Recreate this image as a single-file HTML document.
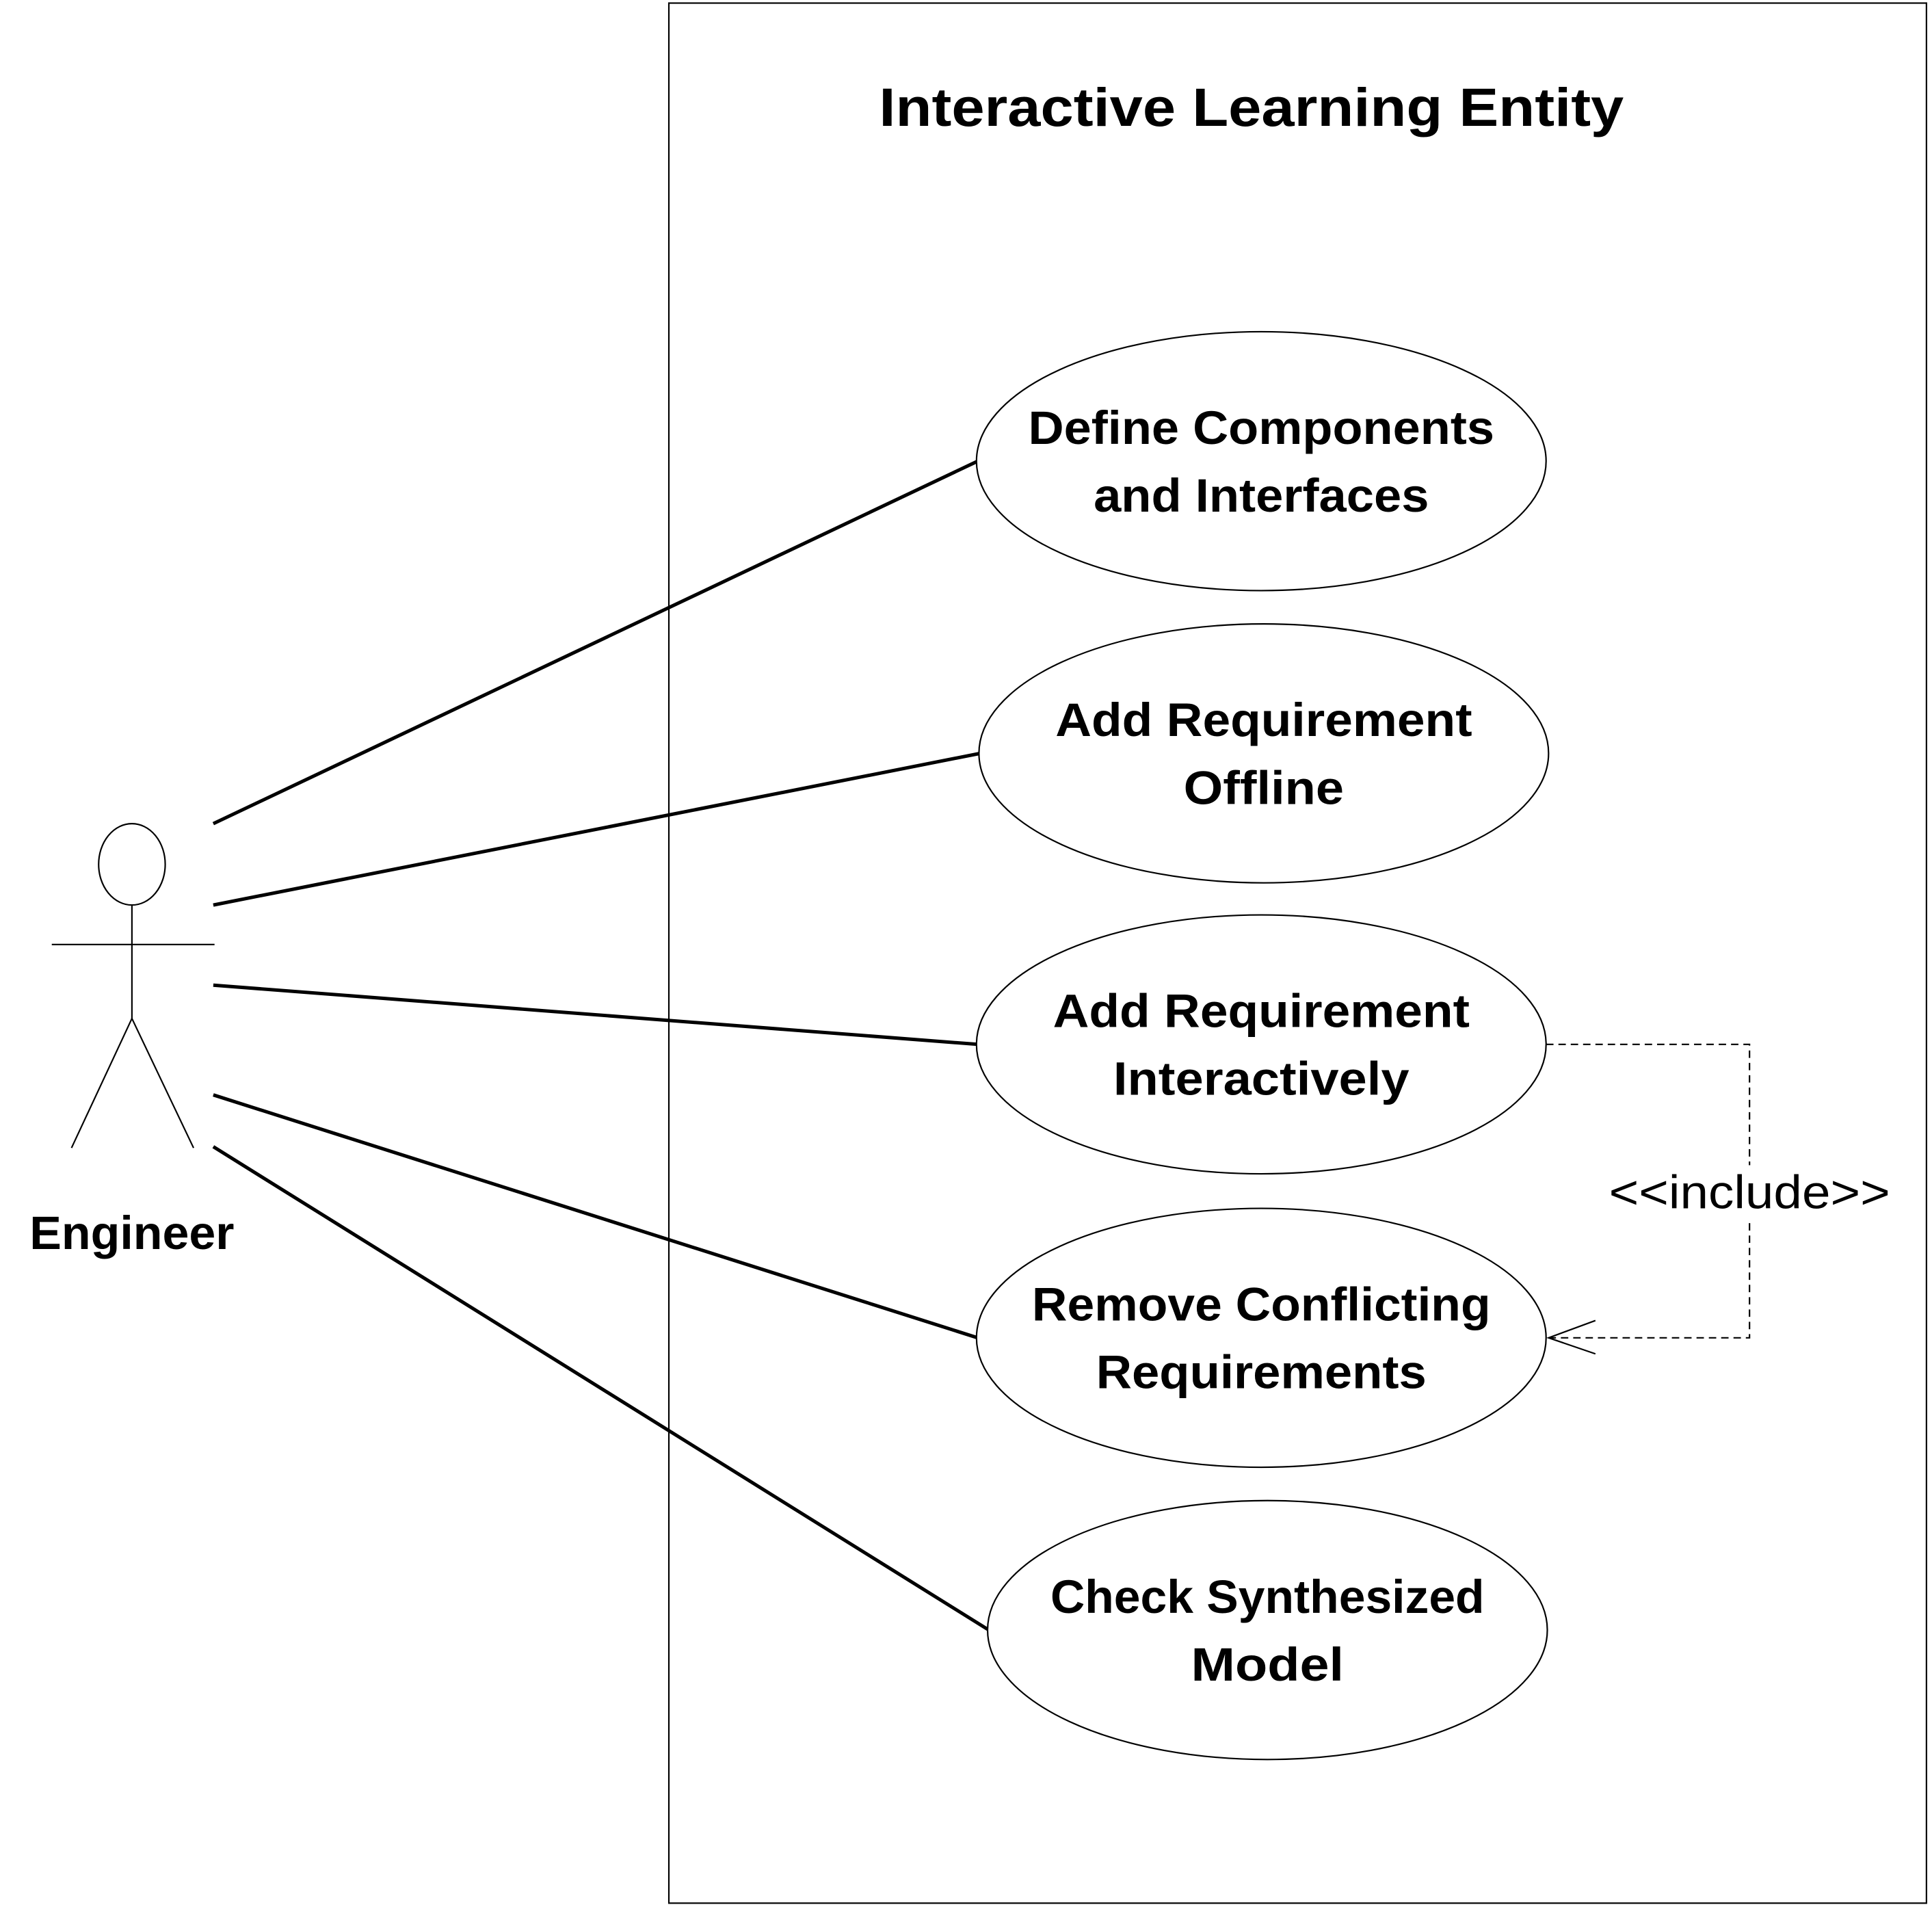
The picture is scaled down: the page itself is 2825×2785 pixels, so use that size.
<!DOCTYPE html>
<html><head><meta charset="utf-8"><style>
html,body{margin:0;padding:0;background:#fff;}
svg{display:block;}
text{font-family:"Liberation Sans",sans-serif;fill:#000;}
</style></head><body>
<svg width="2825" height="2785" viewBox="0 0 1567 1545" preserveAspectRatio="none" xmlns="http://www.w3.org/2000/svg">
<rect x="0" y="0" width="1567" height="1545" fill="#fff"/>
<rect x="542.5" y="2.5" width="1020" height="1541" fill="none" stroke="#000" stroke-width="1.2"/>
<text x="1015" y="102" font-size="44" font-weight="bold" text-anchor="middle" textLength="604" lengthAdjust="spacingAndGlyphs">Interactive Learning Entity</text>

<g stroke="#000" stroke-width="2.8" fill="none">
<line x1="173" y1="668" x2="793" y2="374"/>
<line x1="173" y1="734" x2="795" y2="611"/>
<line x1="173" y1="799" x2="793" y2="847"/>
<line x1="173" y1="888" x2="793" y2="1085"/>
<line x1="173" y1="930" x2="802" y2="1322"/>
</g>

<g stroke="#000" stroke-width="1.2" fill="#fff">
<ellipse cx="1023" cy="374" rx="231" ry="105"/>
<ellipse cx="1025" cy="611" rx="231" ry="105"/>
<ellipse cx="1023" cy="847" rx="231" ry="105"/>
<ellipse cx="1023" cy="1085" rx="231" ry="105"/>
<ellipse cx="1028" cy="1322" rx="227" ry="105"/>
</g>

<g font-size="38" font-weight="bold" text-anchor="middle">
<text x="1023" y="360" textLength="378" lengthAdjust="spacingAndGlyphs">Define Components</text>
<text x="1023" y="415" textLength="272" lengthAdjust="spacingAndGlyphs">and Interfaces</text>
<text x="1025" y="597" textLength="338" lengthAdjust="spacingAndGlyphs">Add Requirement</text>
<text x="1025" y="652" textLength="130" lengthAdjust="spacingAndGlyphs">Offline</text>
<text x="1023" y="833" textLength="338" lengthAdjust="spacingAndGlyphs">Add Requirement</text>
<text x="1023" y="888" textLength="240" lengthAdjust="spacingAndGlyphs">Interactively</text>
<text x="1023" y="1071" textLength="372" lengthAdjust="spacingAndGlyphs">Remove Conflicting</text>
<text x="1023" y="1126" textLength="268" lengthAdjust="spacingAndGlyphs">Requirements</text>
<text x="1028" y="1308" textLength="352" lengthAdjust="spacingAndGlyphs">Check Synthesized</text>
<text x="1028" y="1363" textLength="124" lengthAdjust="spacingAndGlyphs">Model</text>
</g>

<g stroke="#000" stroke-width="1.2" fill="none">
<polyline points="1254,847 1419,847 1419,1085 1256,1085" stroke-dasharray="6,4"/>
<polyline points="1294,1071 1256,1085 1294,1098"/>
</g>
<rect x="1305" y="945" width="228" height="44" fill="#fff"/>
<text x="1419" y="980" font-size="38" text-anchor="middle" textLength="228" lengthAdjust="spacingAndGlyphs">&lt;&lt;include&gt;&gt;</text>

<g stroke="#000" stroke-width="1.2" fill="none">
<ellipse cx="107" cy="701" rx="27" ry="33" fill="#fff"/>
<line x1="107" y1="734" x2="107" y2="826"/>
<line x1="42" y1="766" x2="174" y2="766"/>
<line x1="107" y1="826" x2="58" y2="931"/>
<line x1="107" y1="826" x2="157" y2="931"/>
</g>
<text x="107" y="1013" font-size="38" font-weight="bold" text-anchor="middle" textLength="166" lengthAdjust="spacingAndGlyphs">Engineer</text>
</svg>
</body></html>
